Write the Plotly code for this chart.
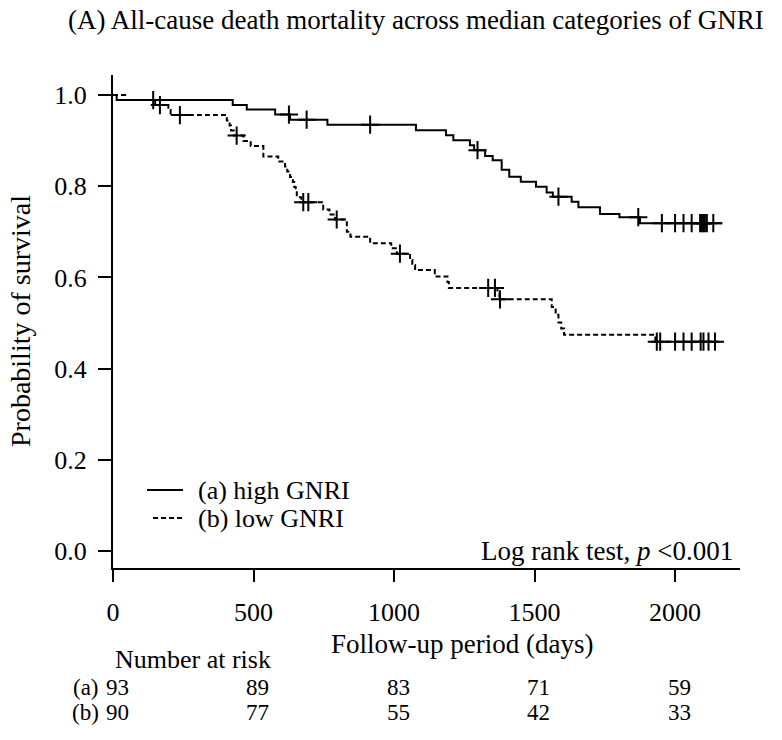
import numpy as np
import plotly.graph_objects as go

# ---------------- data ----------------
# (a) high GNRI: step times (days) and survival after each step
high_times = [0, 13, 426, 476, 577, 630, 763, 1078, 1185, 1211, 1270, 1285, 1324, 1351,
              1383, 1410, 1451, 1505, 1543, 1565, 1632, 1656, 1733, 1802, 1875, 2166]
high_surv = [1.0, 0.989, 0.978, 0.968, 0.957, 0.946, 0.935, 0.923, 0.912, 0.901, 0.890,
             0.879, 0.866, 0.857, 0.836, 0.821, 0.810, 0.799, 0.786, 0.777, 0.766, 0.754,
             0.739, 0.732, 0.719, 0.719]
high_censor = [143, 626, 689, 915, 1297, 1585, 1869, 1953, 2000, 2030, 2059, 2089, 2095,
               2100, 2106, 2113, 2136]

# (b) low GNRI
low_times = [0, 43, 150, 197, 205, 405, 415, 420, 430, 464, 490, 535, 588, 612, 620, 630,
             640, 645, 650, 654, 670, 748, 770, 790, 832, 845, 915, 990, 1010, 1057, 1065,
             1075, 1145, 1190, 1195, 1368, 1375, 1561, 1575, 1585, 1595, 1605, 1930, 2166]
low_surv = [1.0, 0.989, 0.978, 0.967, 0.956, 0.944, 0.933, 0.922, 0.911, 0.899, 0.888,
            0.865, 0.854, 0.843, 0.832, 0.820, 0.809, 0.798, 0.787, 0.776, 0.765, 0.749,
            0.738, 0.727, 0.700, 0.689, 0.675, 0.664, 0.652, 0.638, 0.627, 0.616, 0.602,
            0.590, 0.577, 0.565, 0.552, 0.535, 0.518, 0.501, 0.488, 0.474, 0.459, 0.459]
low_censor = [167, 238, 440, 677, 695, 796, 1021, 1335, 1359, 1377, 1935, 1947, 2000, 2030,
              2059, 2091, 2101, 2119, 2142]

x_ticks = [0, 500, 1000, 1500, 2000]
y_ticks = [0.0, 0.2, 0.4, 0.6, 0.8, 1.0]
y_tick_labels = ["0.0", "0.2", "0.4", "0.6", "0.8", "1.0"]

risk_times = [0, 500, 1000, 1500, 2000]
risk_a = [93, 89, 83, 71, 59]
risk_b = [90, 77, 55, 42, 33]

title_text = "(A) All-cause death mortality across median categories of GNRI"
group_names = ["(a) high GNRI", "(b) low GNRI"]
row_labels = ["(a)", "(b)"]

FONT = "Liberation Serif"

# plot-area geometry (pixels)
L, R, T, B = 113, 740, 75, 568
W, H = R - L, B - T


def px_x(p):
    return (p - L) / W


def px_y(p):
    return (B - p) / H


def surv_at(times, surv, t):
    idx = np.searchsorted(np.asarray(times), t, side="right") - 1
    return float(np.asarray(surv)[idx])


DASH = "5px,3px"
fig = go.Figure()

for times, surv, cens, dash in [
    (high_times, high_surv, high_censor, "solid"),
    (low_times, low_surv, low_censor, DASH),
]:
    fig.add_trace(go.Scatter(
        x=times, y=surv, mode="lines", line=dict(color="black", width=2, dash=dash, shape="hv"),
        showlegend=False, hoverinfo="skip"))
    fig.add_trace(go.Scatter(
        x=cens, y=[surv_at(times, surv, t) for t in cens], mode="markers",
        marker=dict(symbol="cross-thin", size=13, line=dict(color="black", width=2)),
        showlegend=False, hoverinfo="skip"))

# legend (drawn as key lines + labels)
shapes = [
    dict(type="line", xref="paper", yref="paper", x0=px_x(147), x1=px_x(183),
         y0=px_y(490), y1=px_y(490), line=dict(color="black", width=2)),
    dict(type="line", xref="paper", yref="paper", x0=px_x(153), x1=px_x(183),
         y0=px_y(518), y1=px_y(518), line=dict(color="black", width=2, dash=DASH)),
]

annotations = [
    dict(text=title_text, xref="paper", yref="paper", x=px_x(416), y=px_y(20),
         xanchor="center", yanchor="middle", showarrow=False, font=dict(size=27)),
    dict(text="Follow-up period (days)", xref="paper", yref="paper", x=px_x(462),
         y=px_y(644), xanchor="center", yanchor="middle", showarrow=False,
         font=dict(size=27)),
    dict(text="Probability of survival", xref="paper", yref="paper", x=px_x(20),
         y=px_y(321), xanchor="center", yanchor="middle", textangle=-90, showarrow=False,
         font=dict(size=28)),
    dict(text="Log rank test, <i>p</i> <0.001", xref="paper", yref="y", x=px_x(735),
         y=0.0, xanchor="right", yanchor="middle", showarrow=False, font=dict(size=27)),
    dict(text="Number at risk", xref="x", yref="paper", x=0, y=px_y(659),
         xanchor="left", yanchor="middle", showarrow=False, font=dict(size=26)),
    dict(text=group_names[0], xref="paper", yref="paper", x=px_x(196), y=px_y(490),
         xanchor="left", yanchor="middle", showarrow=False, font=dict(size=26)),
    dict(text=group_names[1], xref="paper", yref="paper", x=px_x(196), y=px_y(518),
         xanchor="left", yanchor="middle", showarrow=False, font=dict(size=26)),
]
row_y = [687, 712]
for lab, ypx in zip(row_labels, row_y):
    annotations.append(dict(text=lab, xref="paper", yref="paper", x=px_x(101), y=px_y(ypx),
                            xanchor="right", yanchor="middle", showarrow=False,
                            font=dict(size=23)))
for t, a, b in zip(risk_times, risk_a, risk_b):
    for val, ypx in zip([a, b], row_y):
        annotations.append(dict(text=str(val), xref="x", yref="paper", x=t + 15,
                                y=px_y(ypx), xanchor="center", yanchor="middle",
                                showarrow=False, font=dict(size=23)))

fig.update_layout(
    width=782, height=740,
    margin=dict(l=L, r=782 - R, t=T, b=740 - B, autoexpand=False),
    paper_bgcolor="white", plot_bgcolor="white",
    font=dict(family=FONT, color="black", size=24),
    showlegend=False,
    shapes=shapes,
    annotations=annotations,
)
fig.update_xaxes(
    range=[0, 2231], tickvals=x_ticks, ticktext=[str(v) for v in x_ticks],
    showline=True, linecolor="black", linewidth=2, showgrid=False, zeroline=False,
    ticks="outside", ticklen=12, tickwidth=2, tickcolor="black",
    tickfont=dict(size=26), ticklabelstandoff=8, automargin=False)
fig.update_yaxes(
    range=[-0.0373, 1.0439], tickvals=y_ticks, ticktext=y_tick_labels,
    showline=True, linecolor="black", linewidth=2, showgrid=False, zeroline=False,
    ticks="outside", ticklen=13, tickwidth=2, tickcolor="black",
    tickfont=dict(size=26), ticklabelstandoff=6, automargin=False)

fig.write_html("out.html")
